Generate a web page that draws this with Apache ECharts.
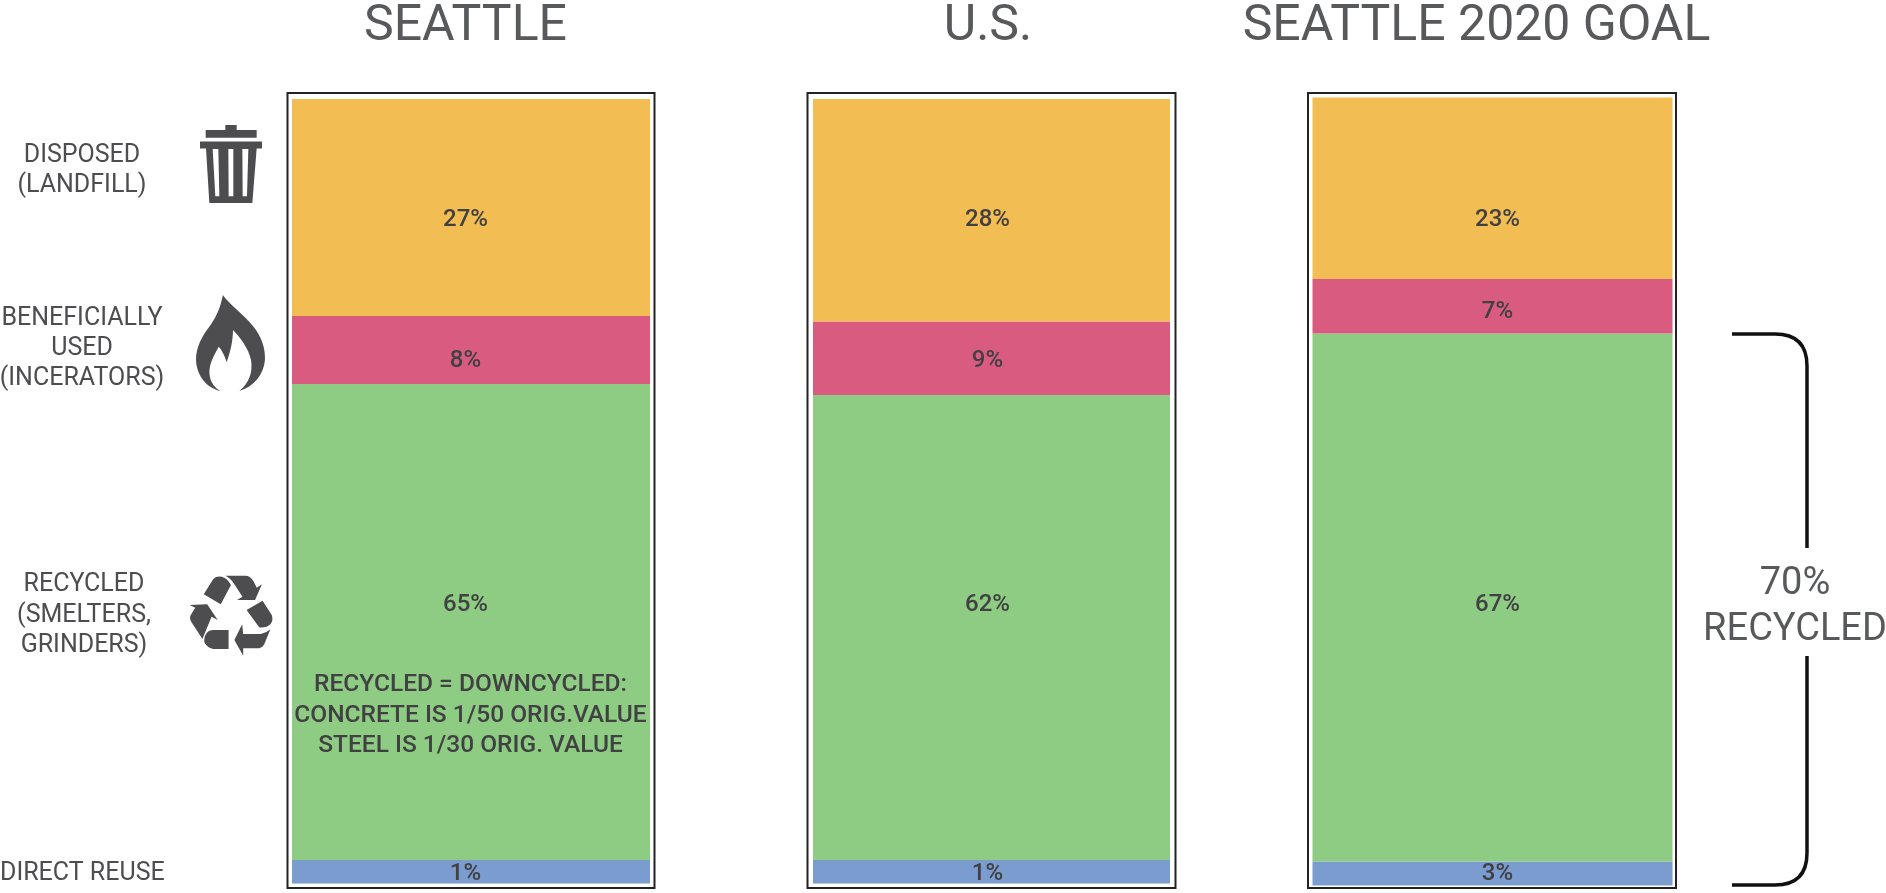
<!DOCTYPE html>
<html><head><meta charset="utf-8">
<style>html,body{margin:0;padding:0;background:#fff}#c{width:1886px;height:893px}</style>
<script src="https://cdn.jsdelivr.net/npm/echarts@6/dist/echarts.min.js"></script>
</head><body><div id="c"></div>
<script>
// ---- data: segment heights (share of each bar's drawn height) ----
const categories = ['SEATTLE', 'U.S.', 'SEATTLE 2020 GOAL'];
const directReuse = [3.0, 3.0, 3.05];
const recycled    = [60.67, 59.27, 67.0];
const beneficial  = [8.67, 9.37, 6.92];
const disposed    = [27.66, 28.36, 23.03];
// ---- printed labels ----
const directReuseLabels = ['1%', '1%', '3%'];
const recycledLabels    = ['65%', '62%', '67%'];
const beneficialLabels  = ['8%', '9%', '7%'];
const disposedLabels    = ['27%', '28%', '23%'];
const rowLabels = ['DISPOSED\n(LANDFILL)', 'BENEFICIALLY\nUSED\n(INCERATORS)', 'RECYCLED\n(SMELTERS,\nGRINDERS)', 'DIRECT REUSE'];
const noteText = 'RECYCLED = DOWNCYCLED:\nCONCRETE IS 1/50 ORIG.VALUE\nSTEEL IS 1/30 ORIG. VALUE';
const bracketText = '70%\nRECYCLED';

// ---- layout ----
const FONT = 'Roboto, sans-serif';
const grids = [
  {left: 292, top: 99, width: 358, height: 784.5},
  {left: 813, top: 99, width: 357, height: 784.5},
  {left: 1312.5, top: 97.5, width: 360, height: 788}
];
const frames = [
  {x: 287.5, y: 93, w: 367, h: 795},
  {x: 807.5, y: 93, w: 368, h: 795},
  {x: 1308, y: 93, w: 368, h: 795}
];
const titleX = [465.5, 988, 1476.5];
const labelX = [465.5, 987.5, 1497.5];
const seriesDefs = [
  {name: 'Direct reuse', values: directReuse, labels: directReuseLabels, color: '#7b9ccf', labelY: [874, 874, 874]},
  {name: 'Recycled', values: recycled, labels: recycledLabels, color: '#8dcc82', labelY: [605, 605, 605]},
  {name: 'Beneficially used', values: beneficial, labels: beneficialLabels, color: '#d95c80', labelY: [361, 361, 312]},
  {name: 'Disposed', values: disposed, labels: disposedLabels, color: '#f2bd52', labelY: [220, 220, 220]}
];

const series = [];
categories.forEach((cat, i) => {
  const g = grids[i];
  let base = 0;
  seriesDefs.forEach(d => {
    const v = d.values[i];
    const centerY = g.top + g.height * (1 - (base + v / 2) / 100);
    base += v;
    series.push({
      type: 'bar', name: d.name, stack: 'bar' + i, xAxisIndex: i, yAxisIndex: i,
      barWidth: '100%', silent: true,
      itemStyle: {color: d.color},
      data: [{
        value: v,
        label: {
          show: true, position: 'inside', formatter: d.labels[i],
          offset: [labelX[i] - (g.left + g.width / 2), d.labelY[i] - centerY],
          color: '#414042', fontFamily: FONT, fontSize: 24, fontWeight: 500
        }
      }]
    });
  });
});

// ---- icon paths ----
const trashPath = 'M76 0H110V15H170V38H17V15H76Z M0 49H186V70H0Z M18 70H170L157 233H28Z M38 72L46 213H58L55 72Z M85 72L86 213H100L100 72Z M127 72L128 213H141L145 72Z';
const flamePath = 'M103 30C120 55 165 85 200 125C225 155 238 190 236 225C232 270 200 305 155 318C185 295 198 265 192 225C185 190 155 155 135 135C135 170 125 205 115 232C110 215 100 195 90 185C72 215 55 245 62 275C66 295 78 308 95 318C55 310 20 275 18 225C17 185 40 150 60 125C80 100 95 70 103 30Z';
const recyclePath = 'M72 88L100 42Q108 33 125 35Q140 38 152 60L122 118Z M135 32H195Q208 32 218 48L228 68L243 58L223 105H170L186 95L160 55Q150 38 135 32Z M198 135L245 107L272 150Q278 165 268 178Q255 190 235 187Z M185 178L162 225L188 272V250H235Q245 248 250 238L268 193Q255 205 240 207H188Z M145 195V252H100Q85 250 75 235Q70 220 80 205Q88 195 100 195Z M30 120L82 118L113 165L95 155L68 222L35 170Q28 158 35 148L47 128Z';
const bracketPath = 'M1732 334H1775Q1807 334 1807 366V548 M1807 656V853Q1807 885 1775 885H1732';
const icons = [
  {d: trashPath, x: 200, y: 125, width: 62, height: 78},
  {d: flamePath, x: 196, y: 295, width: 69, height: 96},
  {d: recyclePath, x: 189.5, y: 575.7, width: 83, height: 80}
];

series.push({
  type: 'custom', coordinateSystem: 'none', silent: true, data: [0],
  renderItem: () => ({
    type: 'group',
    children: icons.map(ic => ({
      type: 'path',
      shape: {pathData: ic.d, layout: 'cover', x: ic.x, y: ic.y, width: ic.width, height: ic.height},
      style: {fill: '#4d4d4f'}
    })).concat([{
      type: 'path',
      shape: {pathData: bracketPath},
      style: {fill: null, stroke: '#111', lineWidth: 3.5}
    }])
  })
});

const text = (t, x, y, size, color, lh, align, weight) => ({
  type: 'text', x, y, silent: true, z: 100,
  style: {text: t, fill: color, font: (weight || 400) + ' ' + size + 'px ' + FONT, textAlign: align || 'center', textVerticalAlign: 'middle', lineHeight: lh}
});
const graphic = [];
frames.forEach(f => graphic.push({type: 'rect', silent: true, shape: {x: f.x, y: f.y, width: f.w, height: f.h}, style: {fill: null, stroke: '#222', lineWidth: 2}}));
categories.forEach((c, i) => graphic.push(text(c, titleX[i], 27, 50, '#58595b', 50)));
graphic.push(text(rowLabels[0], 82, 170.5, 25, '#4d4d4f', 30));
graphic.push(text(rowLabels[1], 82, 348.5, 25, '#4d4d4f', 30));
graphic.push(text(rowLabels[2], 84, 615.5, 25, '#4d4d4f', 30.5));
graphic.push(text(rowLabels[3], 0, 873.5, 25, '#4d4d4f', 30, 'left'));
graphic.push(text(noteText, 470.5, 715.5, 24.5, '#414042', 30.5, 'center', 500));
graphic.push(text(bracketText, 1795, 607, 38, '#58595b', 46));

const chart = echarts.init(document.getElementById('c'));
chart.setOption({
  animation: false,
  backgroundColor: '#fff',
  grid: grids.map(g => ({left: g.left, top: g.top, width: g.width, height: g.height, containLabel: false})),
  xAxis: categories.map((c, i) => ({type: 'category', gridIndex: i, data: [c], show: false})),
  yAxis: categories.map((c, i) => ({type: 'value', gridIndex: i, min: 0, max: 100, show: false})),
  series,
  graphic
});
</script></body></html>
